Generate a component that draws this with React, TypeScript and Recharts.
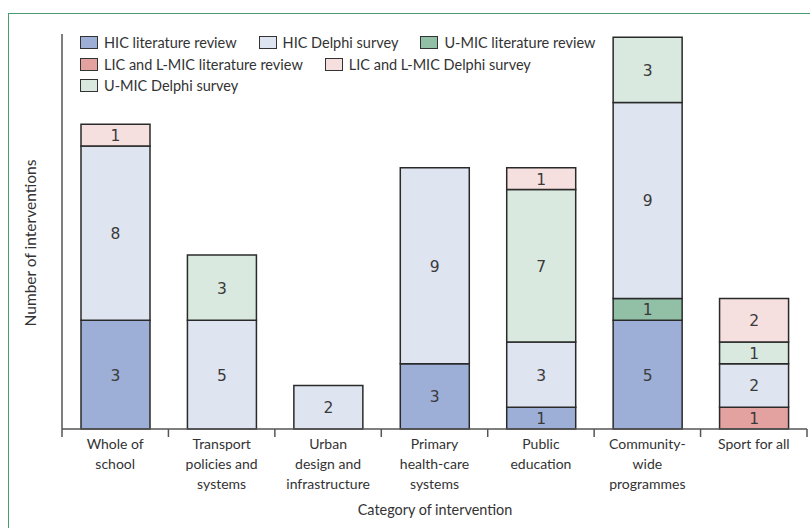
import React from "react";
import { Bar, BarChart, LabelList, XAxis, YAxis } from "recharts";

const categories = [
  "Whole of school",
  "Transport policies and systems",
  "Urban design and infrastructure",
  "Primary health-care systems",
  "Public education",
  "Community-wide programmes",
  "Sport for all",
];

const categoryLines = [
  ["Whole of", "school"],
  ["Transport", "policies and", "systems"],
  ["Urban", "design and", "infrastructure"],
  ["Primary", "health-care", "systems"],
  ["Public", "education"],
  ["Community-", "wide", "programmes"],
  ["Sport for all"],
];

const licLit = [0, 0, 0, 0, 0, 0, 1];
const hicLit = [5, 0, 0, 3, 1, 5, 0];
// the printed label on the first HIC literature bar reads 3
const hicLitLabels = ["3", "", "", "3", "1", "5", ""];
const umicLit = [0, 0, 0, 0, 0, 1, 0];
const hicDelphi = [8, 5, 2, 9, 3, 9, 2];
const umicDelphi = [0, 3, 0, 0, 7, 3, 1];
const licDelphi = [1, 0, 0, 0, 1, 0, 2];

const yTicks = [0, 18.15];

const series = [
  { key: "licLit", name: "LIC and L-MIC literature review", color: "#e3a19f" },
  { key: "hicLit", name: "HIC literature review", color: "#9dafd6" },
  { key: "umicLit", name: "U-MIC literature review", color: "#92c0a6" },
  { key: "hicDelphi", name: "HIC Delphi survey", color: "#dee4f0" },
  { key: "umicDelphi", name: "U-MIC Delphi survey", color: "#d9e9e0" },
  { key: "licDelphi", name: "LIC and L-MIC Delphi survey", color: "#f5e0df" },
];

const legendOrder = ["hicLit", "hicDelphi", "umicLit", "licLit", "licDelphi", "umicDelphi"];

const data = categories.map((c, i) => ({
  category: c,
  licLit: licLit[i],
  hicLit: hicLit[i],
  hicLitLabel: hicLitLabels[i],
  umicLit: umicLit[i],
  hicDelphi: hicDelphi[i],
  umicDelphi: umicDelphi[i],
  licDelphi: licDelphi[i],
}));

const FONT = "Lato, 'Open Sans', sans-serif";
const NUM_FONT = "'DejaVu Sans', sans-serif";
const PLOT_LEFT = 62;
const PLOT_RIGHT = 807;
const HALF_BAND = (PLOT_RIGHT - PLOT_LEFT) / categories.length / 2;

const CategoryTick = (props: any) => {
  const { x, y, index } = props;
  const lines = categoryLines[index] || [];
  return (
    <g>
      <line x1={x - HALF_BAND} x2={x - HALF_BAND} y1={y - 8} y2={y} stroke="#555" strokeWidth={1.5} />
      {index === categories.length - 1 && (
        <line x1={x + HALF_BAND} x2={x + HALF_BAND} y1={y - 8} y2={y} stroke="#555" strokeWidth={1.5} />
      )}
      <text x={x} y={y + 12} textAnchor="middle" fontFamily={FONT} fontSize={14} fill="#333">
        {lines.map((l, k) => (
          <tspan key={k} x={x} dy={k === 0 ? 0 : 20}>
            {l}
          </tspan>
        ))}
      </text>
    </g>
  );
};

const segLabel = (props: any) => {
  const { x, y, width, height, value } = props;
  if (!value || !height) return null;
  return (
    <text
      x={x + width / 2}
      y={y + height / 2 + 1}
      textAnchor="middle"
      dominantBaseline="central"
      fontFamily={NUM_FONT}
      fontSize={15.5}
      fill="#3a3a3a"
    >
      {value}
    </text>
  );
};

const LegendBox = () => (
  <div
    style={{
      position: "absolute",
      left: 80,
      top: 34,
      width: 580,
      display: "flex",
      flexWrap: "wrap",
      columnGap: 22,
      rowGap: 4,
      fontFamily: FONT,
      fontSize: 14.5,
      color: "#333",
      lineHeight: "17.5px",
    }}
  >
    {legendOrder.map((k) => {
      const s = series.find((x) => x.key === k)!;
      return (
        <div key={k} style={{ display: "flex", alignItems: "center" }}>
          <span
            style={{
              display: "inline-block",
              width: 16,
              height: 11,
              background: s.color,
              border: "1.5px solid #333",
              marginRight: 6,
            }}
          />
          {s.name}
        </div>
      );
    })}
  </div>
);

export default function App() {
  return (
    <div style={{ position: "absolute", left: 0, top: 0, width: 810, height: 528, background: "#fff", overflow: "hidden" }}>
      <div
        style={{
          position: "absolute",
          left: 8,
          top: 13,
          width: 820,
          height: 540,
          border: "1.5px solid #4a9a72",
        }}
      />
      <BarChart
        width={810}
        height={528}
        data={data}
        margin={{ top: 34, right: 3, left: 8, bottom: 0 }}
        barSize={69}
        style={{ position: "absolute", left: 0, top: 0 }}
      >
        <XAxis
          dataKey="category"
          height={99}
          interval={0}
          tickLine={false}
          axisLine={{ stroke: "#555", strokeWidth: 1.5 }}
          tick={<CategoryTick />}
          label={{
            content: () => (
              <text x={435} y={515} textAnchor="middle" fontFamily={FONT} fontSize={14.4} fill="#333">
                Category of intervention
              </text>
            ),
          }}
        />
        <YAxis
          width={54}
          domain={[0, 18.15]}
          ticks={yTicks}
          tick={false}
          tickSize={8}
          tickLine={{ stroke: "#555", strokeWidth: 1.5 }}
          axisLine={{ stroke: "#555", strokeWidth: 1.5 }}
          label={{
            content: () => (
              <text
                x={30}
                y={243}
                transform="rotate(-90 30 243)"
                textAnchor="middle"
                dominantBaseline="central"
                fontFamily={FONT}
                fontSize={15.5}
                fill="#333"
              >
                Number of interventions
              </text>
            ),
          }}
        />
        {series.map((s) => (
          <Bar
            key={s.key}
            dataKey={s.key}
            name={s.name}
            stackId="a"
            fill={s.color}
            stroke="#2a2a2a"
            strokeWidth={1.5}
            isAnimationActive={false}
          >
            <LabelList dataKey={s.key === "hicLit" ? "hicLitLabel" : s.key} content={segLabel} />
          </Bar>
        ))}
      </BarChart>
      <LegendBox />
    </div>
  );
}
